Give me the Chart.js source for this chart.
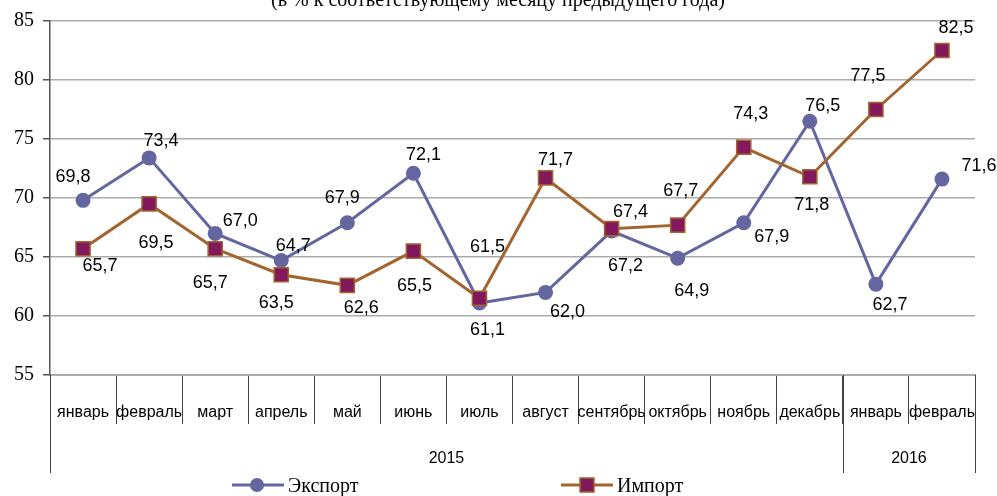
<!DOCTYPE html>
<html>
<head>
<meta charset="utf-8">
<script src="https://cdn.jsdelivr.net/npm/chart.js@4/dist/chart.umd.min.js"></script>
<style>
  html, body { margin: 0; padding: 0; background: #fff; }
  #wrap { width: 997px; height: 496px; }
</style>
</head>
<body>
<div id="wrap"><canvas id="chart" width="997" height="496"></canvas></div>
<script>
// ========== DATA ==========
const MONTHS = ['январь', 'февраль', 'март', 'апрель', 'май', 'июнь', 'июль', 'август',
                'сентябрь', 'октябрь', 'ноябрь', 'декабрь', 'январь', 'февраль'];
const YEARS = [{ label: '2015', from: 0, to: 11 }, { label: '2016', from: 12, to: 13 }];
const EXPORT = [69.8, 73.4, 67.0, 64.7, 67.9, 72.1, 61.1, 62.0, 67.2, 64.9, 67.9, 76.5, 62.7, 71.6];
const IMPORT = [65.7, 69.5, 65.7, 63.5, 62.6, 65.5, 61.5, 71.7, 67.4, 67.7, 74.3, 71.8, 77.5, 82.5];
const Y_MIN = 55, Y_MAX = 85, Y_STEP = 5;
const TITLE = '(в % к соответствующему месяцу предыдущего года)';

// label offsets from the point (px)
const EXPORT_LABEL_POS = [[-10,-23],[12,-17],[25,-12],[12,-15],[-5,-25],[10,-18],[8,27],
                          [22,20],[14,35],[14,33],[28,14],[13,-15],[14,21],[37,-13]];
const IMPORT_LABEL_POS = [[17,17],[7,39],[-5,34],[-5,28],[14,23],[1,35],[8,-51],
                          [10,-18],[19,-17],[3,-34],[7,-33],[2,28],[-8,-33],[14,-22]];

const COLORS = { exp: '#65669F', impLine: '#A2652F', impFill: '#82195C', grid: '#ABABAB', axis: '#555' };
const SANS = '"Liberation Sans", Arial, sans-serif';
const SERIF = '"Liberation Serif", "Times New Roman", serif';

const fmt = v => v.toFixed(1).replace('.', ',');

// ========== PLUGIN: labels, year row, legend, title ==========
const extras = {
    id: 'extras',
    afterDatasetsDraw(chart) {
        const ctx = chart.ctx;
        ctx.save();
        ctx.font = '18px ' + SANS;
        ctx.fillStyle = '#000';
        ctx.textAlign = 'center';
        ctx.textBaseline = 'middle';
        [[0, EXPORT, EXPORT_LABEL_POS], [1, IMPORT, IMPORT_LABEL_POS]].forEach(([i, vals, pos]) => {
            chart.getDatasetMeta(i).data.forEach((pt, j) => {
                ctx.fillText(fmt(vals[j]), pt.x + pos[j][0], pt.y + pos[j][1]);
            });
        });
        ctx.restore();
    },
    afterDraw(chart) {
        const ctx = chart.ctx;
        const x = chart.scales.x;
        const area = chart.chartArea;
        const half = (x.getPixelForValue(1) - x.getPixelForValue(0)) / 2;
        ctx.save();

        // year row separators + labels
        ctx.strokeStyle = '#404040';
        ctx.lineWidth = 1;
        const edges = [area.left];
        YEARS.forEach(y => edges.push(x.getPixelForValue(y.to) + half));
        edges.forEach(px => {
            ctx.beginPath();
            ctx.moveTo(Math.round(px) + 0.5, area.bottom);
            ctx.lineTo(Math.round(px) + 0.5, 473);
            ctx.stroke();
        });
        ctx.font = '16px ' + SANS;
        ctx.fillStyle = '#000';
        ctx.textAlign = 'center';
        ctx.textBaseline = 'middle';
        YEARS.forEach(y => {
            const a = x.getPixelForValue(y.from) - half;
            const b = x.getPixelForValue(y.to) + half;
            ctx.fillText(y.label, (a + b) / 2, 459);
        });

        // title (cut off at the top edge)
        ctx.font = '20px ' + SERIF;
        ctx.textBaseline = 'alphabetic';
        ctx.fillText(TITLE, 498, 6);

        // legend
        const ly = 485;
        ctx.lineWidth = 3;
        ctx.strokeStyle = COLORS.exp;
        ctx.beginPath(); ctx.moveTo(232, ly); ctx.lineTo(284, ly); ctx.stroke();
        ctx.fillStyle = COLORS.exp;
        ctx.beginPath(); ctx.arc(257, ly, 7, 0, Math.PI * 2); ctx.fill();
        ctx.strokeStyle = COLORS.impLine;
        ctx.beginPath(); ctx.moveTo(561, ly); ctx.lineTo(613, ly); ctx.stroke();
        ctx.fillStyle = COLORS.impFill;
        ctx.fillRect(580, ly - 7, 14, 14);
        ctx.lineWidth = 1.5;
        ctx.strokeRect(580, ly - 7, 14, 14);
        ctx.fillStyle = '#000';
        ctx.font = '20px ' + SERIF;
        ctx.textAlign = 'left';
        ctx.textBaseline = 'middle';
        ctx.fillText('Экспорт', 288, 487);
        ctx.fillText('Импорт', 617, 487);
        ctx.restore();
    }
};

// ========== CHART ==========
new Chart(document.getElementById('chart'), {
    type: 'line',
    data: {
        labels: MONTHS,
        datasets: [
            {
                label: 'Экспорт', data: EXPORT, order: 1,
                borderColor: COLORS.exp, backgroundColor: COLORS.exp, borderWidth: 3,
                pointStyle: 'circle', pointRadius: 7.5, pointBorderWidth: 0,
                pointBackgroundColor: COLORS.exp, tension: 0
            },
            {
                label: 'Импорт', data: IMPORT, order: 0,
                borderColor: COLORS.impLine, backgroundColor: COLORS.impFill, borderWidth: 3,
                pointStyle: 'rect', pointRadius: 10, pointBorderWidth: 1.5,
                pointBackgroundColor: COLORS.impFill, pointBorderColor: COLORS.impLine, tension: 0
            }
        ]
    },
    options: {
        responsive: false,
        animation: false,
        devicePixelRatio: 1,
        layout: { padding: { top: 20, right: 22, left: 0, bottom: 0 } },
        plugins: { legend: { display: false }, tooltip: { enabled: false } },
        elements: { point: { hoverRadius: 7.5 } },
        clip: false,
        scales: {
            x: {
                type: 'category',
                offset: true,
                grid: { offset: true, drawOnChartArea: false, drawTicks: true, tickLength: 49, color: '#404040', lineWidth: 1 },
                border: { color: COLORS.grid, width: 2 },
                ticks: { font: { family: SANS, size: 16 }, color: '#000', padding: -21, maxRotation: 0, autoSkip: false },
                afterFit: s => { s.height = 121; }
            },
            y: {
                min: Y_MIN, max: Y_MAX,
                grid: { color: COLORS.grid, lineWidth: 1.5, tickLength: 7, tickColor: COLORS.axis },
                border: { color: COLORS.axis, width: 1.5 },
                ticks: { stepSize: Y_STEP, font: { family: SERIF, size: 20 }, color: '#000', padding: 9 },
                afterFit: s => { s.width = 50; }
            }
        }
    },
    plugins: [extras]
});
</script>
</body>
</html>
